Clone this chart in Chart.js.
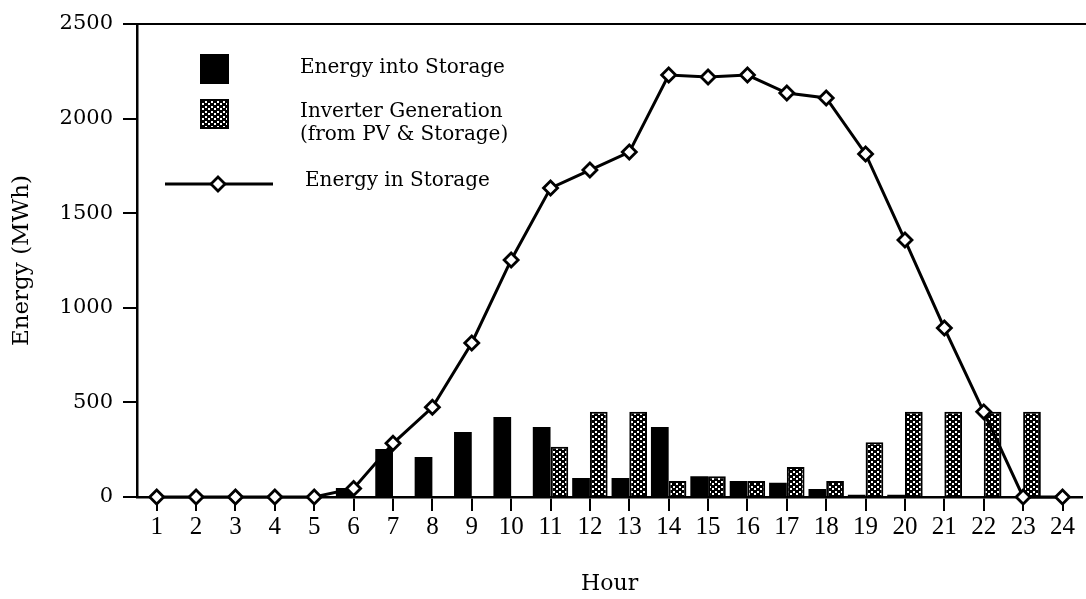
<!DOCTYPE html>
<html>
<head>
<meta charset="utf-8">
<script src="https://cdn.jsdelivr.net/npm/chart.js@4/dist/chart.umd.min.js"></script>
<style>
  html, body { margin: 0; padding: 0; background: #fff; overflow: hidden; }
  #wrap { width: 1092px; height: 599px; position: relative; }
</style>
</head>
<body>
<div id="wrap"><canvas id="c"></canvas></div>
<script>
// Hourly energy balance of a PV plant with storage (MWh)
const hours = ['1','2','3','4','5','6','7','8','9','10','11','12',
               '13','14','15','16','17','18','19','20','21','22','23','24'];
const energyIntoStorage  = [0,0,0,0,0,48,254,211,344,423,370,100,100,370,110,85,75,42,12,12,0,0,0,0];
const inverterGeneration = [0,0,0,0,0,0,0,0,0,0,265,450,450,85,110,85,158,85,290,450,450,450,450,0];
const energyInStorage    = [0,0,0,0,0,45,284,474,814,1253,1633,1728,1823,2230,2220,2230,2135,2109,1813,1358,893,450,0,0];
const yTicks = [0, 500, 1000, 1500, 2000, 2500];

const legendItems = [
  { kind: 'solid',  lines: ['Energy into Storage'] },
  { kind: 'dotted', lines: ['Inverter Generation', '(from PV & Storage)'] },
  { kind: 'line',   lines: ['Energy in Storage'] }
];

// black fill with a staggered grid of white dots
function dotPattern() {
  const p = document.createElement('canvas');
  p.width = 6; p.height = 5;
  const g = p.getContext('2d');
  g.fillStyle = '#000';
  g.fillRect(0, 0, 6, 5);
  g.fillStyle = '#fff';
  g.fillRect(1, 1, 2, 2);
  g.fillRect(4, 3, 2, 2);
  return document.getElementById('c').getContext('2d').createPattern(p, 'repeat');
}
const dots = dotPattern();

const serif = 'DejaVu Serif';

const frameAndLegend = {
  id: 'frameAndLegend',
  afterDraw(chart) {
    const ctx = chart.ctx;
    const a = chart.chartArea;
    ctx.save();
    // top frame line
    ctx.strokeStyle = '#000';
    ctx.lineWidth = 2;
    ctx.beginPath();
    ctx.moveTo(a.left, a.top);
    ctx.lineTo(chart.width, a.top);
    ctx.stroke();

    // legend
    ctx.fillStyle = '#000';
    ctx.font = '20px "' + serif + '"';
    ctx.textBaseline = 'middle';
    ctx.textAlign = 'left';

    // solid box
    ctx.fillRect(200, 54, 29, 30);
    ctx.fillText(legendItems[0].lines[0], 300, 68);

    // dotted box
    ctx.fillStyle = dots;
    ctx.fillRect(200, 99, 29, 30);
    ctx.strokeStyle = '#000';
    ctx.lineWidth = 2;
    ctx.strokeRect(201, 100, 27, 28);
    ctx.fillStyle = '#000';
    ctx.fillText(legendItems[1].lines[0], 300, 112);
    ctx.fillText(legendItems[1].lines[1], 300, 135);

    // line with diamond
    ctx.lineWidth = 2.8;
    ctx.beginPath();
    ctx.moveTo(165, 184);
    ctx.lineTo(273, 184);
    ctx.stroke();
    ctx.beginPath();
    ctx.moveTo(218, 177); ctx.lineTo(225, 184); ctx.lineTo(218, 191); ctx.lineTo(211, 184); ctx.closePath();
    ctx.fillStyle = '#fff';
    ctx.fill();
    ctx.stroke();
    ctx.fillStyle = '#000';
    ctx.fillText(legendItems[2].lines[0], 305, 181);
    ctx.restore();
  }
};

new Chart(document.getElementById('c'), {
  type: 'bar',
  data: {
    labels: hours,
    datasets: [
      {
        type: 'line',
        label: 'Energy in Storage',
        data: energyInStorage,
        borderColor: '#000',
        borderWidth: 3,
        pointStyle: 'rectRot',
        pointRadius: 7,
        pointBorderWidth: 2.8,
        pointBackgroundColor: '#fff',
        pointBorderColor: '#000',
        tension: 0,
        clip: false,
        order: 0
      },
      {
        label: 'Energy into Storage',
        data: energyIntoStorage,
        backgroundColor: '#000',
        borderColor: '#000',
        borderWidth: 0,
        categoryPercentage: 0.9,
        barPercentage: 1.0,
        order: 1
      },
      {
        label: 'Inverter Generation (from PV & Storage)',
        data: inverterGeneration,
        backgroundColor: dots,
        borderColor: '#000',
        borderWidth: 2,
        categoryPercentage: 0.9,
        barPercentage: 1.0,
        order: 2
      }
    ]
  },
  options: {
    responsive: true,
    maintainAspectRatio: false,
    animation: false,
    events: [],
    layout: { padding: { top: 24, right: 0, bottom: 0, left: 0 } },
    plugins: { legend: { display: false }, tooltip: { enabled: false } },
    scales: {
      x: {
        offset: true,
        grid: { offset: false, drawOnChartArea: false, drawTicks: true, tickLength: 14, color: '#000', lineWidth: 2 },
        border: { display: true, color: '#000', width: 2.5 },
        ticks: { color: '#000', font: { family: 'Liberation Serif', size: 25 }, padding: 1, maxRotation: 0, autoSkip: false },
        title: { display: true, text: 'Hour', color: '#000', font: { family: serif, size: 22 }, padding: { top: 0, bottom: 2 } },
        afterFit(scale) { scale.height = 102; }
      },
      y: {
        min: 0,
        max: 2500,
        afterBuildTicks(scale) { scale.ticks = yTicks.map(v => ({ value: v })); },
        grid: { drawOnChartArea: false, drawTicks: true, tickLength: 14, color: '#000', lineWidth: 2 },
        border: { display: true, color: '#000', width: 2.5 },
        ticks: { color: '#000', font: { family: serif, size: 21 }, padding: 10, callback: v => String(v) },
        title: { display: true, text: 'Energy (MWh)', color: '#000', font: { family: serif, size: 23 }, padding: { top: 8, bottom: 0 } },
        afterFit(scale) { scale.width = 137; }
      }
    }
  },
  plugins: [frameAndLegend]
});
</script>
</body>
</html>
